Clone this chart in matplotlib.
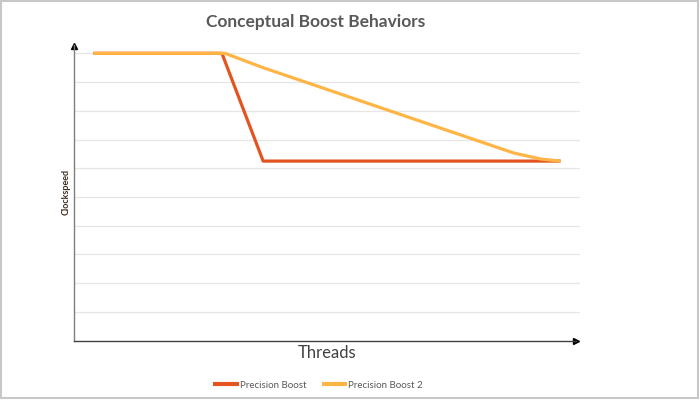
import matplotlib
matplotlib.use("Agg")
import matplotlib.pyplot as plt
from matplotlib.patches import Rectangle

# data (x in arbitrary "thread" units, y in arbitrary clockspeed units)
pb_threads = [0.5, 3.8, 4.86, 12.5]
pb_clock = [10.0, 10.0, 6.25, 6.25]

pb2_threads = [0.5, 3.88, 4.86, 11.3, 12.0, 12.5]
pb2_clock = [10.0, 10.0, 9.5, 6.53, 6.32, 6.25]

grid_levels = [1, 2, 3, 4, 5, 6, 7, 8, 9, 10]

RED = "#E35420"
YELLOW = "#FFB546"
TEXT = "#595959"

plt.rcParams["font.family"] = ["Lato", "DejaVu Sans"]

fig = plt.figure(figsize=(7.0, 4.01), dpi=100)
ax = fig.add_axes([74 / 700, 1 - 340.7 / 401, 506 / 700, 296 / 401])
ax.set_xlim(0, 13)
ax.set_ylim(0, 10.3)

for g in grid_levels:
    ax.axhline(g, color="#E6E6E6", lw=0.9, zorder=0)

ax.plot(pb_threads, pb_clock, color=RED, lw=2.3, solid_capstyle="butt",
        label="Precision Boost", zorder=2)
ax.plot(pb2_threads, pb2_clock, color=YELLOW, lw=2.3, solid_capstyle="butt",
        label="Precision Boost 2", zorder=3)

for s in ("top", "right"):
    ax.spines[s].set_visible(False)
ax.spines["left"].set_color("#7F7F7F")
ax.spines["bottom"].set_color("#404040")
ax.spines["left"].set_linewidth(1.0)
ax.spines["bottom"].set_linewidth(1.0)
ax.spines["bottom"].set_bounds(0, 12.9)
ax.plot(0.993, 0, ">", color="black", ms=5, transform=ax.get_yaxis_transform(),
        clip_on=False)
ax.plot(0, 0.995, "^", color="black", ms=5, transform=ax.get_xaxis_transform(),
        clip_on=False)
ax.set_xticks([])
ax.set_yticks([])

ax.set_xlabel("Threads", fontsize=12, color="#404040", labelpad=3)
fig.text(66.5 / 700, 1 - 192 / 401, "Clockspeed", rotation=90, ha="center",
         va="center", fontsize=6.5, fontweight="bold", color="#3F2F20")
fig.text(316 / 700, 1 - 22 / 401, "Conceptual Boost Behaviors", ha="center",
         va="center", fontsize=12.5, fontweight="bold", color=TEXT)

leg = fig.legend(loc="center", bbox_to_anchor=(318 / 700, 1 - 385 / 401),
                 ncol=2, frameon=False, fontsize=7, handlelength=2.6,
                 handletextpad=0.1, columnspacing=1.6)
for t in leg.get_texts():
    t.set_color(TEXT)
for h in leg.get_lines():
    h.set_linewidth(3)

fig.patches.append(Rectangle((1 / 700, 3 / 401), 697 / 700, 397 / 401,
                             transform=fig.transFigure, fill=False,
                             edgecolor="#C8C8C8", lw=1.5))

fig.savefig("out.png", dpi=100)
